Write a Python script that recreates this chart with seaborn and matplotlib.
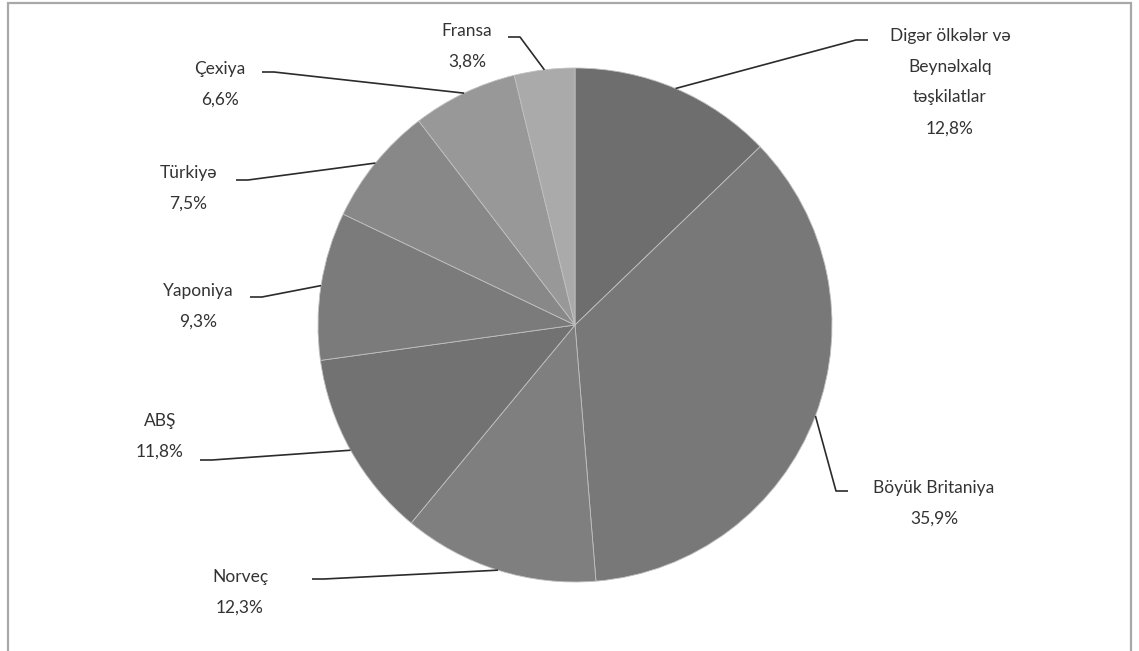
import matplotlib
matplotlib.use("Agg")
import matplotlib.pyplot as plt
import seaborn as sns
import numpy as np
from matplotlib.patches import Rectangle

# ---- data ----
categories = ["Digər ölkələr və\nBeynəlxalq\ntəşkilatlar", "Böyük Britaniya", "Norveç", "ABŞ",
              "Yaponiya", "Türkiyə", "Çexiya", "Fransa"]
shares = [12.8, 35.9, 12.3, 11.8, 9.3, 7.5, 6.6, 3.8]
pct_labels = ["12,8%", "35,9%", "12,3%", "11,8%", "9,3%", "7,5%", "6,6%", "3,8%"]
colors = ["#6e6e6e", "#787878", "#7f7f7f", "#727272", "#7b7b7b", "#888888", "#989898", "#aaaaaa"]

# ---- layout (pixel positions of label text and leader-line ends) ----
text_px = [(950, 82), (934, 503), (240, 592), (160, 436), (198, 306), (188, 188), (220, 84), (467, 46)]
end_px = [(868, 40), (848, 491), (312, 579), (200, 460), (250, 297), (236, 180), (262, 72), (508, 37)]
elbow_px = [(856, 40), (836, 491), (324, 579), (212, 460), (262, 297), (248, 180), (274, 72), (520, 37)]

sns.set_theme(style="white")
plt.rcParams["font.family"] = ["Lato", "DejaVu Sans"]

W, H = 1139, 651
fig = plt.figure(figsize=(W / 100, H / 100), dpi=100)
cx, cy, R = 575, 325, 257
ax = fig.add_axes([(cx - R) / W, (H - cy - R) / H, 2 * R / W, 2 * R / H])

wedges, _ = ax.pie(shares, colors=colors, startangle=90, counterclock=False,
                   wedgeprops=dict(edgecolor="#c0c0c0", linewidth=0.6))
ax.set_xlim(-1, 1)
ax.set_ylim(-1, 1)
ax.set_aspect("equal")
ax.axis("off")

def to_data(p):
    return ((p[0] - cx) / R, (cy - p[1]) / R)

for w, name, pct, tp, ep, bp in zip(wedges, categories, pct_labels, text_px, end_px, elbow_px):
    mid = np.deg2rad((w.theta1 + w.theta2) / 2)
    ax_pt = (np.cos(mid), np.sin(mid))
    b = to_data(bp)
    e = to_data(ep)
    ax.plot([ax_pt[0], b[0], e[0]], [ax_pt[1], b[1], e[1]], color="#2b2b2b", lw=1.2,
            clip_on=False, solid_capstyle="butt")
    t = to_data(tp)
    ax.text(t[0], t[1], f"{name}\n{pct}", ha="center", va="center", fontsize=12.5,
            color="#333333", linespacing=2.15, clip_on=False)

# outer border
fig.patches.append(Rectangle((8 / W, -0.02), (1131 - 8) / W, (H - 3) / H + 0.02,
                             transform=fig.transFigure, fill=False, edgecolor="#a8a8a8", lw=1.6))

fig.savefig("out.png", dpi=100)
